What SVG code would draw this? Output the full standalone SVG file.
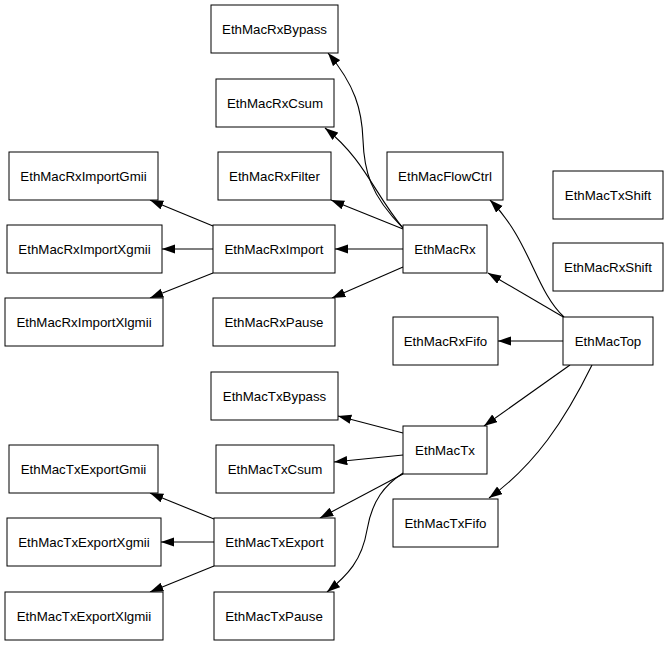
<svg xmlns="http://www.w3.org/2000/svg" width="669" height="645" viewBox="0 0 669 645">
<style>
.n rect{fill:#fff;stroke:#000;stroke-width:1}
.n text{font-family:"Liberation Sans",Arial,sans-serif;font-size:13.3px;text-anchor:middle;fill:#000}
.e path{fill:none;stroke:#000;stroke-width:1.1;marker-end:url(#ah)}
</style>
<defs>
<marker id="ah" markerUnits="userSpaceOnUse" markerWidth="14" markerHeight="10" refX="13.3" refY="4.65" orient="auto" viewBox="0 0 14 10">
<path d="M0,0 L13.3,4.65 L0,9.3 z" fill="#000" stroke="none"/>
</marker>
</defs>
<rect width="669" height="645" fill="#fff"/>
<g class="e" id="edges">
<path d="M565,318 L488,273"/>
<path d="M564,317 C535,290 530,240 490,200"/>
<path d="M563,341 L498,341"/>
<path d="M570,365 L484,426"/>
<path d="M592,365 C565,420 535,465 489,498"/>
<path d="M403,228 C370,195 364,170 363,140 C362,110 355,85 328,53"/>
<path d="M403,228 C375,195 365,160 325,128"/>
<path d="M403,229 L331,200"/>
<path d="M403,249 L335,249"/>
<path d="M403,267 L332,298"/>
<path d="M213,226 L150,200"/>
<path d="M213,249 L162,249"/>
<path d="M213,273 L150,298"/>
<path d="M403,433 L338,416"/>
<path d="M403,455 L334,462"/>
<path d="M403,474 L320,518"/>
<path d="M403,473 C385,485 372,500 367,530 C362,560 348,575 327,592"/>
<path d="M214,519 L150,493"/>
<path d="M214,542 L161,542"/>
<path d="M214,566 L150,592"/>
</g>
<g class="n" id="EthMacRxBypass"><rect x="211" y="5" width="127" height="48"/><text x="274.5" y="33.5">EthMacRxBypass</text></g>
<g class="n" id="EthMacRxCsum"><rect x="216" y="79" width="118" height="48"/><text x="275" y="107.5">EthMacRxCsum</text></g>
<g class="n" id="EthMacRxFilter"><rect x="218" y="152" width="113" height="48"/><text x="274.5" y="180.5">EthMacRxFilter</text></g>
<g class="n" id="EthMacFlowCtrl"><rect x="387" y="152" width="116" height="48"/><text x="445" y="180.5">EthMacFlowCtrl</text></g>
<g class="n" id="EthMacTxShift"><rect x="553" y="171" width="110" height="48"/><text x="608" y="199.5">EthMacTxShift</text></g>
<g class="n" id="EthMacRxShift"><rect x="553" y="243" width="110" height="48"/><text x="608" y="271.5">EthMacRxShift</text></g>
<g class="n" id="EthMacRx"><rect x="403" y="225" width="84" height="48"/><text x="445" y="253.5">EthMacRx</text></g>
<g class="n" id="EthMacRxFifo"><rect x="393" y="317" width="105" height="48"/><text x="445.5" y="345.5">EthMacRxFifo</text></g>
<g class="n" id="EthMacTop"><rect x="563" y="317" width="90" height="48"/><text x="608" y="345.5">EthMacTop</text></g>
<g class="n" id="EthMacRxImportGmii"><rect x="9" y="152" width="149" height="48"/><text x="83.5" y="180.5">EthMacRxImportGmii</text></g>
<g class="n" id="EthMacRxImportXgmii"><rect x="7" y="225" width="155" height="48"/><text x="84.5" y="253.5">EthMacRxImportXgmii</text></g>
<g class="n" id="EthMacRxImportXlgmii"><rect x="5" y="298" width="158" height="48"/><text x="84" y="326.5">EthMacRxImportXlgmii</text></g>
<g class="n" id="EthMacRxImport"><rect x="213" y="225" width="122" height="48"/><text x="274" y="253.5">EthMacRxImport</text></g>
<g class="n" id="EthMacRxPause"><rect x="213" y="298" width="122" height="48"/><text x="274" y="326.5">EthMacRxPause</text></g>
<g class="n" id="EthMacTxBypass"><rect x="211" y="372" width="127" height="48"/><text x="274.5" y="400.5">EthMacTxBypass</text></g>
<g class="n" id="EthMacTxCsum"><rect x="216" y="445" width="118" height="48"/><text x="275" y="473.5">EthMacTxCsum</text></g>
<g class="n" id="EthMacTx"><rect x="403" y="426" width="84" height="48"/><text x="445" y="454.5">EthMacTx</text></g>
<g class="n" id="EthMacTxFifo"><rect x="393" y="499" width="105" height="48"/><text x="445.5" y="527.5">EthMacTxFifo</text></g>
<g class="n" id="EthMacTxExport"><rect x="214" y="518" width="121" height="48"/><text x="274.5" y="546.5">EthMacTxExport</text></g>
<g class="n" id="EthMacTxExportGmii"><rect x="9" y="445" width="149" height="48"/><text x="83.5" y="473.5">EthMacTxExportGmii</text></g>
<g class="n" id="EthMacTxExportXgmii"><rect x="7" y="518" width="154" height="48"/><text x="84" y="546.5">EthMacTxExportXgmii</text></g>
<g class="n" id="EthMacTxExportXlgmii"><rect x="5" y="592" width="158" height="48"/><text x="84" y="620.5">EthMacTxExportXlgmii</text></g>
<g class="n" id="EthMacTxPause"><rect x="214" y="592" width="120" height="48"/><text x="274" y="620.5">EthMacTxPause</text></g>
</svg>
